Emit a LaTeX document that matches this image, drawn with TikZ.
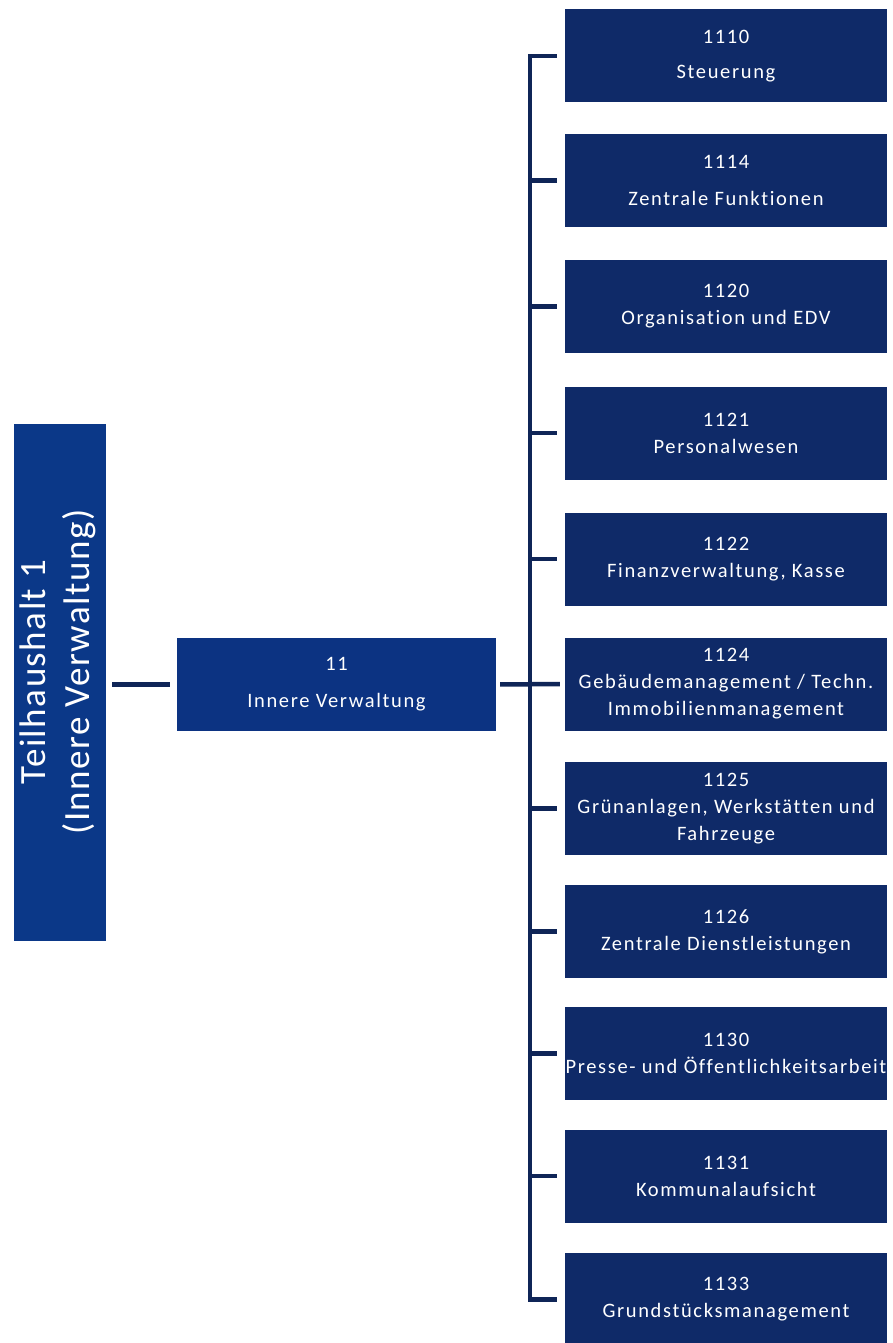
\documentclass[tikz,border=0pt]{standalone}
\usepackage{fontspec}
\setmainfont{Carlito}[Ligatures=NoCommon]
\newfontfamily\boxfont{Carlito}[LetterSpace=8,Ligatures=NoCommon]
\newfontfamily\bigfont{Carlito}[LetterSpace=4,Ligatures=NoCommon]
\definecolor{navy}{HTML}{0F2A68}
\definecolor{navyb}{HTML}{0C3382}
\definecolor{navyl}{HTML}{0B3888}
\definecolor{lineblue}{HTML}{0F2557}
\begin{document}
\begin{tikzpicture}[x=1pt,y=-1pt,
  sub/.style={rectangle, fill=navy, text=white, minimum width=322pt, minimum height=93pt,
    inner sep=0pt, align=center, font=\boxfont\fontsize{20.5}{27}\selectfont},
  mid/.style={rectangle, fill=navyb, text=white, minimum width=319pt, minimum height=93pt,
    inner sep=0pt, align=center, font=\boxfont\fontsize{20.5}{27}\selectfont},
  top/.style={rectangle, fill=navyl, text=white, minimum width=92pt, minimum height=517pt,
    inner sep=0pt},
  conn/.style={draw=lineblue, line width=4.5pt}]
\useasboundingbox (0,0) rectangle (892,1343);
\fill[white] (0,0) rectangle (892,1343);

% left main box
\node[top] (th) at (60,682.5) {};
\node[rotate=90, text=white, align=center, inner sep=0pt,
  font=\bigfont\fontsize{37}{44}\selectfont] (thtext) at (58,672) {Teilhaushalt 1\\(Innere Verwaltung)};

% middle box
\node[mid] (b11) at (336.5,684.5) {11\\[10pt]Innere Verwaltung};

% right boxes
\node[sub] (b1110) at (726,56) {1110\\[8pt]Steuerung};
\node[sub] (b1114) at (726,180.5) {1114\\[10pt]Zentrale Funktionen};
\node[sub] (b1120) at (726,306.5) {1120\\Organisation und EDV};
\node[sub] (b1121) at (726,433) {1121\\Personalwesen};
\node[sub] (b1122) at (726,559) {1122\\Finanzverwaltung, Kasse};
\node[sub] (b1124) at (726,684) {1124\\Gebäudemanagement / Techn.\\Immobilienmanagement};
\node[sub] (b1125) at (726,808.5) {1125\\Grünanlagen, Werkstätten und\\Fahrzeuge};
\node[sub] (b1126) at (726,931.5) {1126\\Zentrale Dienstleistungen};
\node[sub] (b1130) at (726,1053.5) {1130\\Presse- und Öffentlichkeitsarbeit};
\node[sub] (b1131) at (726,1176) {1131\\Kommunalaufsicht};
\node[sub] (b1133) at (726,1299.5) {1133\\Grundstücksmanagement};

% spine
\coordinate (sp) at (530,0);

% connectors
\draw[conn, shorten <=6pt, shorten >=7pt] (th.east |- b11.west) -- (b11.west);
\draw[conn, shorten <=4pt, shorten >=5pt] (b11.east) -- (b1124.west);
\draw[conn, line join=miter] ([xshift=-8pt]b1110.west) -- (b1110.west -| sp)
  -- (b1133.west -| sp) -- ([xshift=-8pt]b1133.west);
\foreach \n in {1114,1120,1121,1122,1125,1126,1130,1131}{
  \draw[conn] (b\n.west -| sp) -- ([xshift=-8pt]b\n.west);
}
\end{tikzpicture}
\end{document}
